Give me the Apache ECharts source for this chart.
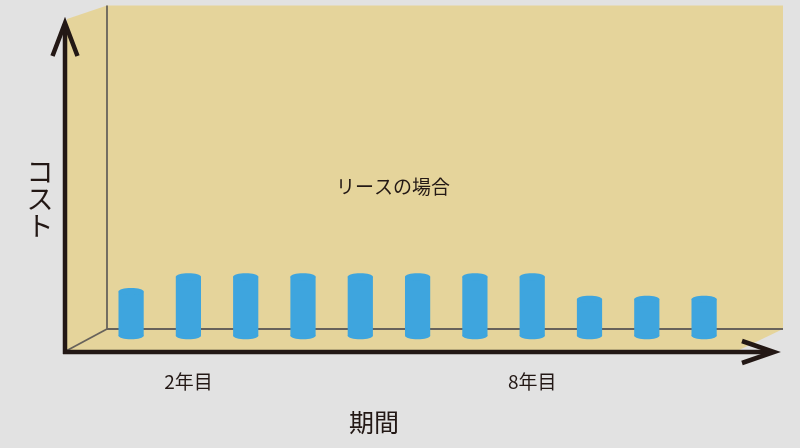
<!DOCTYPE html>
<html>
<head>
<meta charset="utf-8">
<script src="https://cdn.jsdelivr.net/npm/echarts@6/dist/echarts.min.js"></script>
<style>
html,body{margin:0;padding:0;background:#e2e2e2;}
#c{width:800px;height:448px;}
</style>
</head>
<body>
<div id="c"></div>
<script>
// data
const categories = ['1年目','2年目','3年目','4年目','5年目','6年目','7年目','8年目','9年目','10年目','11年目'];
const costValues = [75, 100, 100, 100, 100, 100, 100, 100, 62, 62, 62];
const shownLabels = ['2年目', '8年目'];
const seriesTitle = 'リースの場合';
const xTitle = '期間';
const yTitle = 'コスト';

const FONT = '"Noto Sans CJK JP", "Noto Sans", sans-serif';
const INK = '#231815';
const TAN = '#e5d49b';
const WALL = '#67625b';
const BLUE = '#3ea5de';

const chart = echarts.init(document.getElementById('c'));

function renderCylinder(params, api) {
  const idx = api.value(0);
  const val = api.value(1);
  const top = api.coord([idx, val]);
  const bot = api.coord([idx, 0]);
  const w = api.size([1, 0])[0] * 0.44;
  const rx = w / 2, ry = 3.5;
  const cx = top[0];
  return {
    type: 'group',
    children: [
      { type: 'ellipse', shape: { cx: cx, cy: bot[1], rx: rx, ry: ry }, style: { fill: BLUE } },
      { type: 'rect', shape: { x: cx - rx, y: top[1], width: w, height: bot[1] - top[1] }, style: { fill: BLUE } },
      { type: 'ellipse', shape: { cx: cx, cy: top[1], rx: rx, ry: ry }, style: { fill: BLUE } }
    ]
  };
}

chart.setOption({
  backgroundColor: '#e2e2e2',
  animation: false,
  grid: { left: 102.45, right: 67.25, top: 5, bottom: 112.2 },
  xAxis: {
    type: 'category',
    data: categories,
    axisLine: { show: false },
    axisTick: { show: false },
    splitLine: { show: false },
    axisLabel: {
      interval: 0,
      margin: 36,
      color: INK,
      fontSize: 19,
      fontFamily: FONT,
      formatter: function (v) { return shownLabels.indexOf(v) >= 0 ? v : ''; }
    }
  },
  yAxis: {
    type: 'value', min: 0, max: 560,
    show: false,
    splitLine: { show: false }
  },
  graphic: [
    { type: 'polygon', z: 0, silent: true,
      shape: { points: [[67, 19], [107, 5.5], [783, 5.5], [783, 329], [735, 352], [65, 352]] },
      style: { fill: TAN } },
    { type: 'line', z: 0, silent: true, shape: { x1: 107, y1: 5.5, x2: 107, y2: 329 }, style: { stroke: WALL, lineWidth: 1.8 } },
    { type: 'line', z: 0, silent: true, shape: { x1: 107, y1: 329, x2: 783, y2: 329 }, style: { stroke: WALL, lineWidth: 1.8 } },
    { type: 'line', z: 0, silent: true, shape: { x1: 107, y1: 329, x2: 66, y2: 351 }, style: { stroke: WALL, lineWidth: 1.8 } },
    { type: 'line', z: 10, silent: true, shape: { x1: 65, y1: 354, x2: 65, y2: 25 }, style: { stroke: INK, lineWidth: 4.5 } },
    { type: 'polyline', z: 10, silent: true, shape: { points: [[52.5, 56], [65, 23], [77.5, 56]] }, style: { stroke: INK, lineWidth: 4.5, lineJoin: 'miter', fill: null } },
    { type: 'line', z: 10, silent: true, shape: { x1: 63, y1: 352, x2: 772, y2: 352 }, style: { stroke: INK, lineWidth: 4.5 } },
    { type: 'polyline', z: 10, silent: true, shape: { points: [[742, 341], [774, 352], [742, 363]] }, style: { stroke: INK, lineWidth: 4.5, lineJoin: 'miter', fill: null } },
    { type: 'text', z: 10, silent: true, x: 393, y: 187,
      style: { text: seriesTitle, fill: INK, font: '19px ' + FONT, textAlign: 'center', textVerticalAlign: 'middle' } },
    { type: 'text', z: 10, silent: true, x: 374, y: 422,
      style: { text: xTitle, fill: INK, font: '25px ' + FONT, textAlign: 'center', textVerticalAlign: 'middle' } },
    { type: 'text', z: 10, silent: true, x: 40, y: 199,
      style: { text: yTitle.split('').join('\n'), fill: INK, font: '27px ' + FONT, lineHeight: 27, textAlign: 'center', textVerticalAlign: 'middle' } }
  ],
  series: [{
    type: 'custom',
    z: 5,
    renderItem: renderCylinder,
    encode: { x: 0, y: 1 },
    data: costValues.map(function (v, i) { return [i, v]; })
  }]
});
</script>
</body>
</html>
